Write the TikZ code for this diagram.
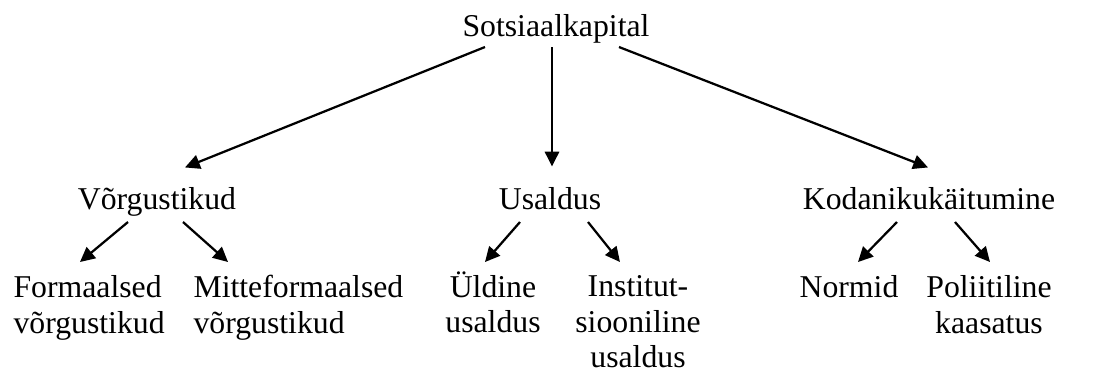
\documentclass[tikz,border=0pt]{standalone}
\usepackage{fontspec}
\setmainfont{Liberation Serif}
\usetikzlibrary{arrows.meta, positioning, calc}

\begin{document}
\begin{tikzpicture}[x=0.378pt, y=-0.378pt,
    font=\fontsize{12}{13.4}\selectfont,
    every node/.style={inner sep=0pt},
    leaf/.style={align=center, anchor=north},
    leafleft/.style={align=left, anchor=north west},
    arr/.style={line width=0.85pt, -{Triangle[length=5.6pt,width=5.4pt]}}]
    \useasboundingbox (0,0) rectangle (1093,374);

    % Juur
    \node[anchor=base] (root) at (556,36) {Sotsiaalkapital};

    % Teine tase
    \node[anchor=base] (vorg) at (157,209) {Võrgustikud};
    \node[anchor=base] (usald) at (550,209) {Usaldus};
    \node[anchor=base] (kodan) at (929,209) {Kodanikukäitumine};

    % Kolmas tase
    \node[leafleft] (formaal) at (13,275) {Formaalsed\\võrgustikud};
    \node[leafleft] (mitte) at (193,275) {Mitteformaalsed\\võrgustikud};
    \node[leaf] (yldine) at (493,271) {Üldine\\usaldus};
    \node[leaf] (instit) at (638,275) {Institut-\\siooniline\\usaldus};
    \node[leaf] (normid) at (849,275) {Normid};
    \node[leaf] (poliit) at (989,275) {Poliitiline\\kaasatus};

    % Nooled juurest
    \draw[arr] ([shift={(-71,11)}]root.base) -- ([shift={(28,-19)}]vorg.north);
    \draw[arr] ([shift={(-4,11)}]root.base) -- ([shift={(2,-20)}]usald.north);
    \draw[arr] ([shift={(63,11)}]root.base) -- ([shift={(-1,-19)}]kodan.north);

    % Nooled alamharudele
    \draw[arr] ([shift={(-29,13)}]vorg.base) -- ([shift={(67,-13)}]formaal.north west);
    \draw[arr] ([shift={(26,13)}]vorg.base) -- ([shift={(35,-13)}]mitte.north west);
    \draw[arr] ([shift={(-30,13)}]usald.base) -- ([shift={(-8,-9)}]yldine.north);
    \draw[arr] ([shift={(38,13)}]usald.base) -- ([shift={(-18,-13)}]instit.north);
    \draw[arr] ([shift={(-32,13)}]kodan.base) -- ([shift={(9,-13)}]normid.north);
    \draw[arr] ([shift={(26,13)}]kodan.base) -- ([shift={(1,-13)}]poliit.north);
\end{tikzpicture}
\end{document}
